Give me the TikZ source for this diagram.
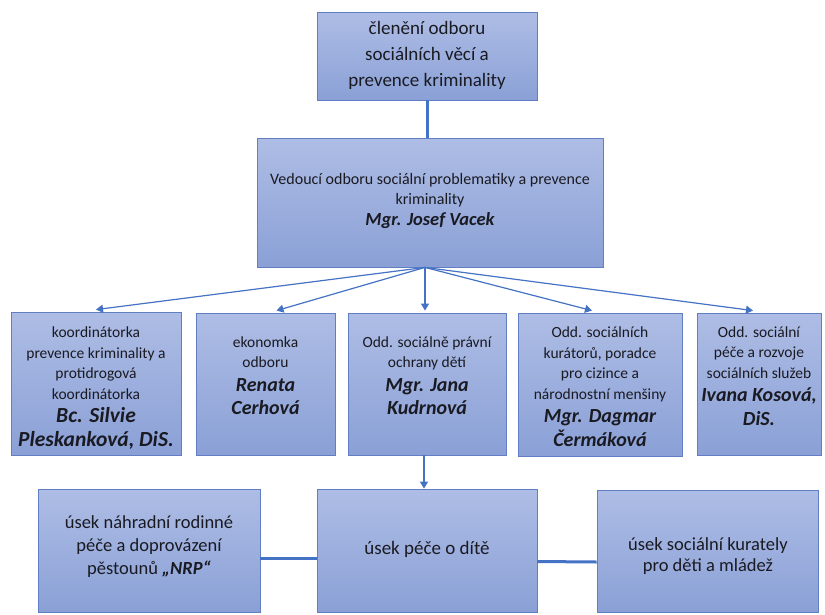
\documentclass[tikz,border=0pt]{standalone}
\usepackage{fontspec}
\setmainfont{Carlito}
\usetikzlibrary{arrows.meta}
\definecolor{boxtop}{RGB}{174,189,229}
\definecolor{boxbot}{RGB}{138,160,214}
\definecolor{boxline}{RGB}{98,126,194}
\definecolor{conn}{RGB}{68,114,196}
\definecolor{ink}{RGB}{26,26,34}
\newcommand{\nm}[1]{{\fontsize{20}{24}\selectfont\bfseries\itshape #1}}
\newcommand{\nmbig}[1]{{\fontsize{21.5}{24}\selectfont\bfseries\itshape #1}}
\begin{document}
\begin{tikzpicture}[x=1pt,y=-1pt,
  box/.style 2 args={draw=boxline,line width=0.8pt,top color=boxtop,bottom color=boxbot,inner sep=0pt,minimum width=#1,minimum height=#2},
  txt/.style={align=center,text=ink,inner sep=0pt},
  rowtxt/.style={txt,font=\fontsize{15.5}{20.5}\selectfont},
  arr/.style={draw=conn,line width=1.2pt,-{Triangle[length=7pt,width=8pt]}},
  thk/.style={draw=conn,line width=3pt}]
\useasboundingbox (0,0) rectangle (825,614);
% top
\node[box={220}{88}] (top) at (427,56) {};
\node[txt,font=\fontsize{19}{26}\selectfont] (ttop) at (427,55) {členění odboru\\sociálních věcí a\\prevence kriminality};
% head
\node[box={346}{129}] (ved) at (430,202.5) {};
\node[txt,font=\fontsize{16}{20}\selectfont] (tved) at (430,200.5) {Vedoucí odboru sociální problematiky a prevence\\kriminality\\[1pt]{\fontsize{18.5}{20}\selectfont\bfseries\itshape Mgr. Josef Vacek}};
% row
\node[box={170}{143}] (b1) at (96,383.5) {};
\node[rowtxt] (t1) at (96,388) {koordinátorka\\prevence kriminality a\\protidrogová\\koordinátorka\\[3pt]\nmbig{Bc. Silvie}\\[3pt]\nmbig{Pleskanková, DiS.}};
\node[box={139}{142}] (b2) at (265.5,384) {};
\node[rowtxt] (t2) at (265.5,375.5) {ekonomka\\odboru\\[3pt]\nm{Renata}\\[3pt]\nm{Cerhová}};
\node[box={158}{142}] (b3) at (427,384) {};
\node[rowtxt] (t3) at (427,375.5) {Odd. sociálně právní\\ochrany dětí\\[3pt]\nm{Mgr. Jana}\\[3pt]\nm{Kudrnová}};
\node[box={164}{143}] (b4) at (600,384.5) {};
\node[rowtxt] (t4) at (600,386.5) {Odd. sociálních\\kurátorů, poradce\\pro cizince a\\národnostní menšiny\\[3pt]\nm{Mgr. Dagmar}\\[3pt]\nm{Čermáková}};
\node[box={124}{142}] (b5) at (759,384) {};
\node[rowtxt] (t5) at (759,376) {Odd. sociální\\péče a rozvoje\\sociálních služeb\\[3pt]\nm{Ivana Kosová,}\\[3pt]\nm{DiS.}};
% bottom
\node[box={222}{123}] (ua) at (149,550.5) {};
\node[txt,font=\fontsize{18.5}{23}\selectfont] (ta) at (149,547) {úsek náhradní rodinné\\péče a doprovázení\\pěstounů {\bfseries\itshape „NRP“}};
\node[box={220}{123}] (ub) at (427,550.5) {};
\node[txt,font=\fontsize{19}{23}\selectfont] (tb) at (427,549) {úsek péče o dítě};
\node[box={221}{122}] (uc) at (707.5,551) {};
\node[txt,font=\fontsize{18.5}{21}\selectfont] (tc) at (708,556) {úsek sociální kurately\\pro děti a mládež};
% connectors
\coordinate (hub) at ([xshift=-5pt]ved.south);
\draw[thk] (top.south) -- (top.south |- ved.north);
\draw[arr] (hub) -- ([yshift=2pt]b1.north);
\draw[arr] (hub) -- ([xshift=11pt,yshift=2pt]b2.north);
\draw[arr] (hub) -- ([yshift=2pt]hub |- b3.north);
\draw[arr] (hub) -- ([xshift=-8pt,yshift=2pt]b4.north);
\draw[arr] (hub) -- ([xshift=-6pt,yshift=2pt]b5.north);
\draw[arr] ([xshift=-3pt]b3.south) -- ([xshift=-3pt]ub.north);
\draw[thk] ([yshift=-7.5pt]ua.east) -- ([yshift=-7.5pt]ub.west);
\draw[thk] ([yshift=-11pt]ub.east) -- ([yshift=-11pt]uc.west);
\end{tikzpicture}
\end{document}
